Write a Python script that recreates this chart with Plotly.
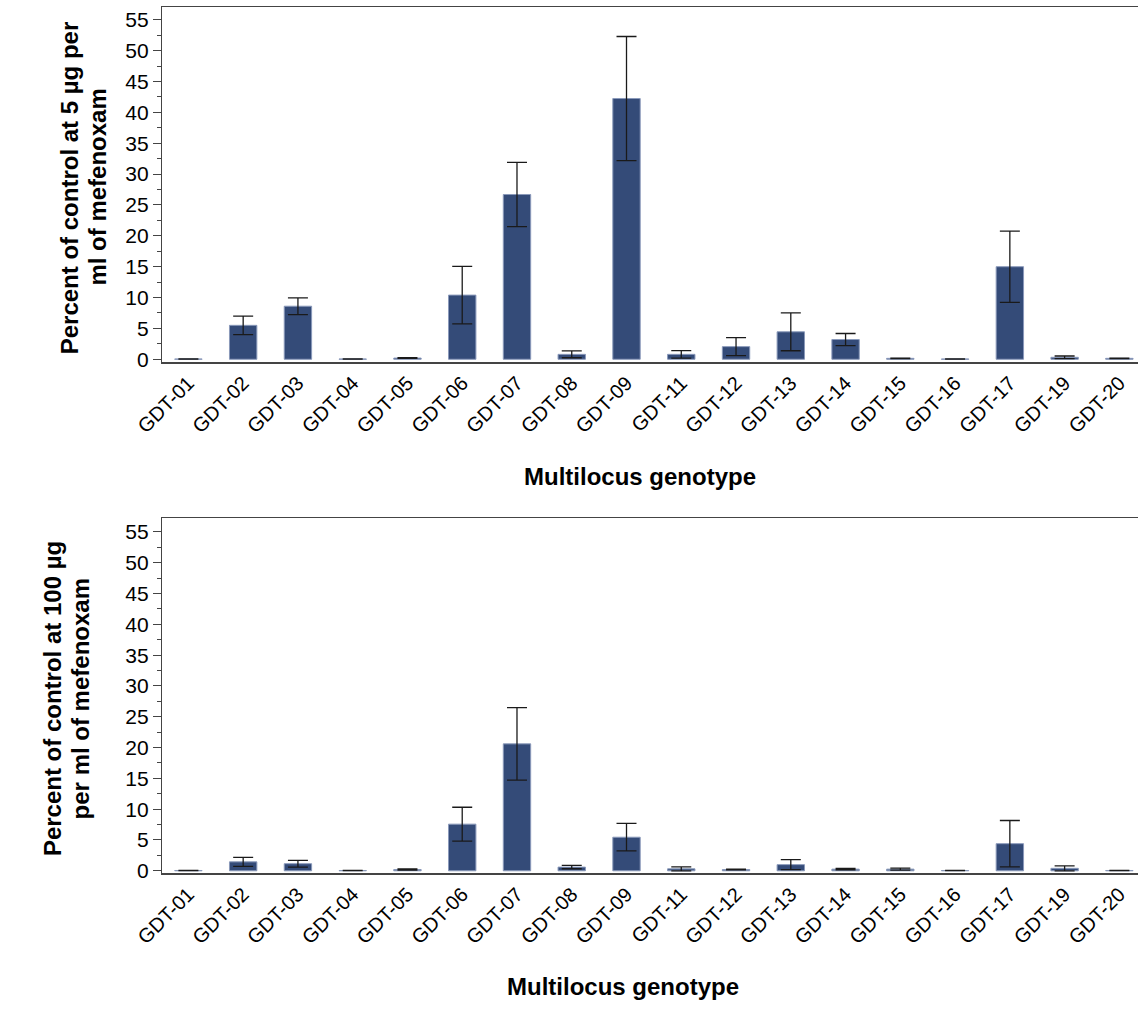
import plotly.graph_objects as go

genotypes = ["GDT-01", "GDT-02", "GDT-03", "GDT-04", "GDT-05", "GDT-06", "GDT-07", "GDT-08", "GDT-09",
             "GDT-11", "GDT-12", "GDT-13", "GDT-14", "GDT-15", "GDT-16", "GDT-17", "GDT-19", "GDT-20"]

pct_5 = [0.05, 5.5, 8.6, 0.05, 0.2, 10.4, 26.7, 0.8, 42.25,
         0.8, 2.05, 4.45, 3.2, 0.15, 0.05, 15.0, 0.32, 0.15]
err_5 = [0.03, 1.5, 1.35, 0.03, 0.05, 4.65, 5.2, 0.55, 10.05,
         0.6, 1.47, 3.07, 0.98, 0.05, 0.02, 5.77, 0.21, 0.04]

pct_100 = [0.05, 1.45, 1.15, 0.05, 0.2, 7.57, 20.6, 0.6, 5.45,
           0.32, 0.2, 1.0, 0.27, 0.27, 0.05, 4.4, 0.4, 0.05]
err_100 = [0.02, 0.73, 0.55, 0.02, 0.1, 2.74, 5.87, 0.27, 2.23,
           0.32, 0.05, 0.8, 0.1, 0.15, 0.02, 3.76, 0.4, 0.02]

y_ticks = list(range(0, 56, 5))

W, H = 1138, 1010
BAR = "#344b78"
EDGE = "#8a99ba"
FONT = "Arial, Liberation Sans, sans-serif"

fig = go.Figure()

fig.add_trace(go.Bar(
    x=list(range(len(genotypes))), y=pct_5, width=0.5,
    marker=dict(color=BAR, line=dict(color=EDGE, width=1)),
    error_y=dict(type="data", array=err_5, visible=True, color="#1a1a1a", thickness=1.3, width=10),
    xaxis="x", yaxis="y", showlegend=False, hoverinfo="skip"))

fig.add_trace(go.Bar(
    x=list(range(len(genotypes))), y=pct_100, width=0.5,
    marker=dict(color=BAR, line=dict(color=EDGE, width=1)),
    error_y=dict(type="data", array=err_100, visible=True, color="#1a1a1a", thickness=1.3, width=10),
    xaxis="x2", yaxis="y2", showlegend=False, hoverinfo="skip"))

xl = 137.5 / W

def xaxis_cfg(anchor):
    return dict(
        domain=[xl, 1.0], anchor=anchor, range=[-0.48, 17.34],
        tickmode="array", tickvals=list(range(len(genotypes))), ticktext=genotypes,
        tickangle=-45, ticks="", showline=True, linecolor="#444", linewidth=1.3,
        mirror=True, showgrid=False, zeroline=False,
        tickfont=dict(family=FONT, size=20, color="#000"))

def yaxis_cfg(anchor, dom, rng):
    return dict(
        domain=dom, anchor=anchor, range=rng,
        tickmode="array", tickvals=y_ticks, ticks="outside", ticklen=8, tickwidth=1,
        tickcolor="#444", showline=True, linecolor="#444", linewidth=1.3,
        mirror=False, showgrid=False, zeroline=False,
        minor=dict(tickmode="array", tickvals=[v + 2.5 for v in y_ticks], ticks="outside",
                   ticklen=4, tickwidth=1, tickcolor="#444"),
        tickfont=dict(family=FONT, size=21, color="#000"))

fig.update_layout(
    width=W, height=H,
    margin=dict(l=0, r=0, t=0, b=0),
    paper_bgcolor="white", plot_bgcolor="white",
    bargap=0.5,
    xaxis=xaxis_cfg("y"),
    yaxis=yaxis_cfg("x", [1 - 365.5 / H, 1 - 7 / H], [-0.48, 57.09]),
    xaxis2=xaxis_cfg("y2"),
    yaxis2=yaxis_cfg("x2", [1 - 881.3 / H, 1 - 522.7 / H], [-0.43, 57.25]),
)

title_font = dict(family=FONT, size=24, color="#000")

def label(text, x, y, angle=0):
    return dict(text="<b>" + text + "</b>", x=x / W, y=1 - y / H, xref="paper", yref="paper",
                showarrow=False, textangle=angle, xanchor="center", yanchor="middle", font=title_font)

annos = [
    label("Multilocus genotype", 627, 481),
    label("Multilocus genotype", 610, 995),
    label("Percent of control at 5 µg per", 42, 189, -90),
    label("ml of mefenoxam", 71, 189, -90),
    label("Percent of control at 100 µg", 25, 705, -90),
    label("per ml of mefenoxam", 54, 705, -90),
]
fig.update_layout(annotations=annos)

fig.write_html("out.html", config={"displayModeBar": False, "staticPlot": True},
               post_script="document.body.style.margin='0';document.body.style.overflow='hidden';")
